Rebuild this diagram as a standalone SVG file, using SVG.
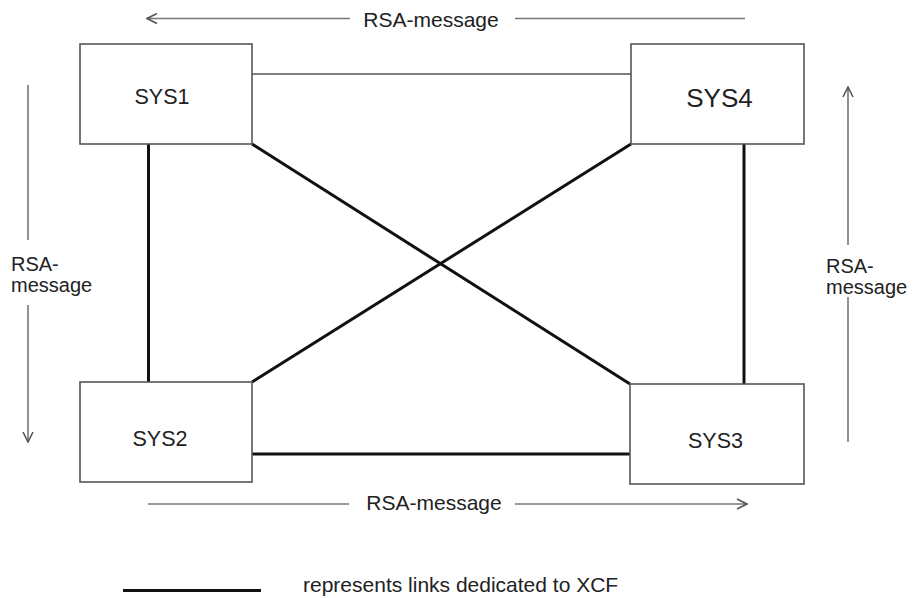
<svg xmlns="http://www.w3.org/2000/svg" width="916" height="598" viewBox="0 0 916 598">
<defs>
<style>
.box{fill:#fff;stroke:#555;stroke-width:1.6}
.lbl{font-family:"Liberation Sans",Arial,sans-serif;fill:#222;text-anchor:middle}
.txt{font-family:"Liberation Sans",Arial,sans-serif;fill:#222;font-size:21px}
.side{font-family:"Liberation Sans",Arial,sans-serif;fill:#222;font-size:20px}
.thin{stroke:#555;stroke-width:1.6;fill:none}
.thick{stroke:#111;stroke-width:3;fill:none}
.msg{stroke:#777;stroke-width:1.6;fill:none}
</style>
<marker id="ah" viewBox="0 0 12 12" refX="11" refY="6" markerWidth="12" markerHeight="12" markerUnits="userSpaceOnUse" orient="auto">
<path d="M1,1 L11,6 L1,11" fill="none" stroke="#555" stroke-width="1.6"/>
</marker>
</defs>
<rect width="916" height="598" fill="#fff"/>
<g id="connectors">
<line class="thin" x1="252" y1="74" x2="631" y2="74"/>
<line class="thick" x1="148.5" y1="144" x2="148.5" y2="382"/>
<line class="thick" x1="744" y1="144" x2="744" y2="384"/>
<line class="thick" x1="252" y1="454" x2="630" y2="454"/>
<line class="thick" x1="252" y1="144" x2="630" y2="384"/>
<line class="thick" x1="631" y1="144" x2="252" y2="382"/>
</g>
<g id="messages">
<line class="msg" x1="350" y1="18.5" x2="147" y2="18.5" marker-end="url(#ah)"/>
<line class="msg" x1="515" y1="18.5" x2="745" y2="18.5"/>
<text class="txt" x="431" y="27" text-anchor="middle">RSA-message</text>
<line class="msg" x1="148" y1="504" x2="349" y2="504"/>
<line class="msg" x1="515" y1="504" x2="747" y2="504" marker-end="url(#ah)"/>
<text class="txt" x="434" y="510" text-anchor="middle">RSA-message</text>
<line class="msg" x1="28" y1="85" x2="28" y2="240"/>
<line class="msg" x1="28" y1="305" x2="28" y2="442" marker-end="url(#ah)"/>
<text class="side" x="11" y="271">RSA-</text>
<text class="side" x="11" y="292">message</text>
<line class="msg" x1="848" y1="245" x2="848" y2="87" marker-end="url(#ah)"/>
<line class="msg" x1="848" y1="297" x2="848" y2="442"/>
<text class="side" x="826" y="273">RSA-</text>
<text class="side" x="826" y="294">message</text>
</g>
<g id="sys1"><rect class="box" x="80" y="44" width="172" height="100"/><text class="lbl" x="162" y="104" font-size="21.5">SYS1</text></g>
<g id="sys4"><rect class="box" x="631" y="44" width="173" height="100"/><text class="lbl" x="719.5" y="106.5" font-size="26">SYS4</text></g>
<g id="sys2"><rect class="box" x="80" y="382" width="172" height="100"/><text class="lbl" x="160" y="446" font-size="21.5">SYS2</text></g>
<g id="sys3"><rect class="box" x="630" y="384" width="174" height="100"/><text class="lbl" x="715.5" y="448" font-size="21.5">SYS3</text></g>
<g id="legend">
<line class="thick" x1="123" y1="590.5" x2="261" y2="590.5"/>
<text class="txt" x="303" y="592" font-size="22">represents links dedicated to XCF</text>
</g>
</svg>
